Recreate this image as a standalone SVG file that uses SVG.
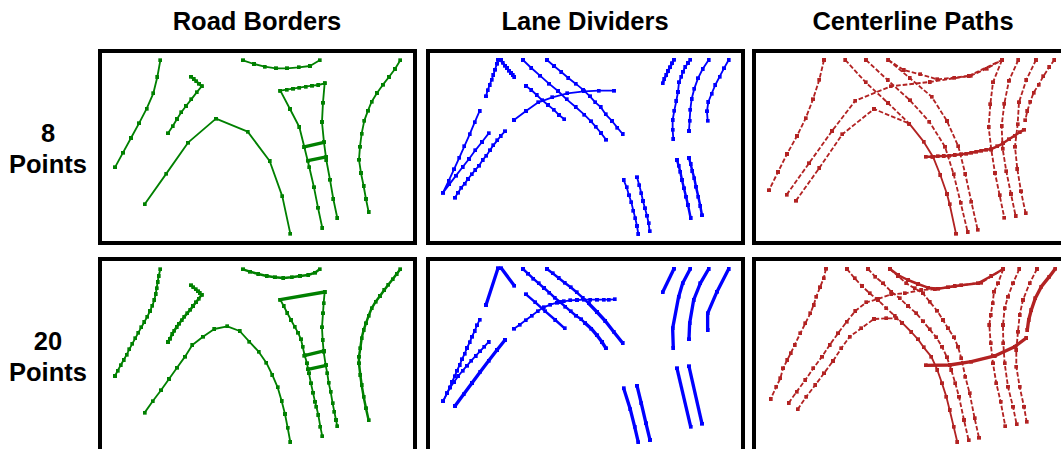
<svg xmlns="http://www.w3.org/2000/svg" width="1061" height="449" viewBox="0 0 1061 449">
<style>
text{font-family:"Liberation Sans",Arial,sans-serif;font-weight:700;font-size:25.5px;fill:#000;text-anchor:middle}
.frame{fill:#fff;stroke:#000;stroke-width:4}
polyline{fill:none;stroke-linejoin:round;stroke-width:5.5}
.g polyline{stroke:#008000;marker-start:url(#mg);marker-mid:url(#mg);marker-end:url(#mg)}
.b polyline{stroke:#0000ff;marker-start:url(#mb);marker-mid:url(#mb);marker-end:url(#mb)}
.r polyline{stroke:#b22222;stroke-dasharray:14 6;marker-start:url(#mr);marker-mid:url(#mr);marker-end:url(#mr)}
polyline.t{stroke-width:10;stroke-dasharray:none}
polyline.m{stroke-width:7.5;stroke-dasharray:none}
polyline.s{stroke-dasharray:none}
</style>
<defs>
<marker id="mg" markerUnits="userSpaceOnUse" markerWidth="12" markerHeight="12" refX="6" refY="6"><rect width="12" height="12" fill="#008000"/></marker>
<marker id="mb" markerUnits="userSpaceOnUse" markerWidth="12" markerHeight="12" refX="6" refY="6"><rect width="12" height="12" fill="#0000ff"/></marker>
<marker id="mr" markerUnits="userSpaceOnUse" markerWidth="12" markerHeight="12" refX="6" refY="6"><rect width="12" height="12" fill="#b22222"/></marker>
</defs>
<g id="titles">
<text x="257" y="30">Road Borders</text>
<text x="585" y="30">Lane Dividers</text>
<text x="913" y="30">Centerline Paths</text>
</g>
<g id="row-labels">
<text x="48" y="142">8</text>
<text x="48" y="173">Points</text>
<text x="48" y="350">20</text>
<text x="48" y="381">Points</text>
</g>
<g id="frames">
<rect class="frame" x="100" y="51" width="315" height="192"/>
<rect class="frame" x="428" y="51" width="315" height="192"/>
<rect class="frame" x="754" y="51" width="315" height="192"/>
<rect class="frame" x="100" y="259" width="315" height="192"/>
<rect class="frame" x="428" y="259" width="315" height="192"/>
<rect class="frame" x="754" y="259" width="315" height="192"/>
</g>
<g id="borders-8" class="g" transform="translate(95,45) scale(.3333)">
<polyline points="196,46 187,96 175,145 155,191 132,235 108,279 84,323 60,367"/>
<polyline class="m" points="288,95 296,102 304,109 312,116 320,124"/>
<polyline points="320,124 305,142 289,163 273,183 259,202 246,222 233,244 219,265"/>
<polyline points="149,478 214,386 279,293 363,221 458,260 524,348 562,454 586,566"/>
<polyline points="556,137 575,134 594,131 613,128 632,125 651,122 670,120 689,115"/>
<polyline points="556,137 585,192 613,246 628,306 643,367 657,427 669,488 682,549"/>
<polyline points="689,115 684,173 681,231 687,292 694,345 705,404 715,462 727,519"/>
<polyline class="t" points="628,306 687,292"/>
<polyline class="t" points="639,347 694,336"/>
<polyline points="444,46 477,57 509,65 543,70 576,70 611,67 645,63 674,46"/>
<polyline points="916,46 900,72 882,96 864,119 846,144 830,170 819,197 808,227 800,266 795,305 792,344 798,384 806,423 813,462 821,501"/>
</g>
<g id="dividers-8" class="b" transform="translate(422,45) scale(.3333)">
<polyline points="192,154 197,136 203,120 209,104 214,90 219,74 225,56 228,44 238,44"/>
<polyline class="m" points="234,44 242,53 249,62 255,69 261,77 267,84 272,90 277,96"/>
<polyline points="303,45 328,69 354,92 381,116 408,138 434,163 461,186 487,209 507,229 521,245 537,264 552,284"/>
<polyline points="375,45 396,63 418,81 439,99 461,116 483,134 504,154 520,172 536,186 551,208 570,228 586,248 602,267"/>
<polyline points="312,123 328,135 344,150 361,166 378,180 395,194 411,210 427,223"/>
<polyline points="276,225 312,198 349,172 391,157 436,145 486,139 530,137 576,137"/>
<polyline points="173,198 158,232 143,268 127,304 112,338 96,373 80,408 63,443"/>
<polyline points="200,265 180,291 160,316 141,342 122,366 102,392 82,418 63,443"/>
<polyline points="249,259 236,273 226,286 214,301 204,316 193,332 182,345 171,362 160,375 149,388 138,402 128,416 118,428 108,443 99,458"/>
<polyline points="605,405 614,427 621,451 628,472 634,497 640,520 645,543 649,567"/>
<polyline points="645,397 652,421 658,445 663,468 669,490 675,512 680,535 683,559"/>
<polyline class="m" points="765,345 770,362 775,380 780,405 786,430 792,455 798,480 806,519"/>
<polyline class="m" points="801,339 806,357 811,378 817,400 822,425 829,455 835,483 840,511"/>
<polyline class="m" points="756,44 750,55 744,67 738,78 733,90 727,102 722,115"/>
<polyline points="805,44 798,54 790,66 783,80 778,95 771,112 768,141 763,168 757,197 752,225 752,254 754,282"/>
<polyline points="860,45 842,72 828,100 817,131 809,162 805,194 803,227 801,258"/>
<polyline points="920,45 906,70 893,95 880,120 869,146 859,171 855,199 857,227"/>
</g>
<g id="paths-8" class="r" transform="translate(748,45) scale(.3333)">
<polyline points="228,45 214,104 195,163 173,220 147,273 117,327 90,381 63,436"/>
<polyline points="292,45 353,112 420,174 484,236"/>
<polyline points="354,45 419,105 486,166 544,230 591,305 617,388 638,473 659,561"/>
<polyline points="421,45 485,99 551,155 597,228 631,304 652,387 670,470 689,554"/>
<polyline points="421,45 467,75 517,88 568,103 619,98 668,92 716,71 762,45"/>
<polyline points="762,45 735,112 727,178 722,246 730,314 741,384 755,451 769,518"/>
<polyline points="811,45 783,107 769,176 761,243 764,311 775,379 789,447 803,513"/>
<polyline points="864,45 835,105 813,172 809,238 801,305 808,372 819,439 833,505"/>
<polyline points="919,45 904,66 886,94 872,119 857,143 847,170 838,198 832,226"/>
<polyline class="m" points="533,335 553,335 569,334 587,333 604,332 620,330 640,328 655,326 670,323 685,320 700,317 715,314 730,312 748,304 765,295 783,283 800,272 815,262 828,254"/>
<polyline points="116,449 183,355 252,258 322,167 428,124 545,111 662,93 762,45"/>
<polyline points="144,467 214,369 283,268 378,192 484,236"/>
<polyline class="s" points="484,236 527,290 555,335 577,390 597,447 605,478 624,566"/>
</g>
<g id="borders-20" class="g" transform="translate(95,250) scale(.3333)">
<polyline points="196,58 191,78 188,96 185,115 182,132 178,150 172,167 165,183 157,200 148,216 139,232 130,248 121,265 112,281 103,298 95,314 86,330 77,346 68,362 60,378"/>
<polyline class="m" points="288,106 295,112 302,118 309,124 314,129 320,134"/>
<polyline class="m" points="320,134 311,146 303,157 294,168 286,179 277,190 268,200 260,211 252,221 245,231 238,242 232,252 225,266 219,276"/>
<polyline points="149,488 173,454 198,421 222,387 246,353 270,320 292,285 324,260 358,237 397,229 434,243 463,275 491,305 514,338 532,375 548,412 560,453 570,492 578,533 586,576"/>
<polyline class="t" points="556,149 689,126"/>
<polyline points="556,149 566,168 577,189 588,210 599,230 609,248 618,268 623,290 629,316 636,340 642,370 648,400 654,428 660,455 664,470 670,495 676,530 682,559"/>
<polyline points="689,126 686,160 684,190 681,232 683,270 686,305 692,345 697,370 701,398 707,425 713,460 718,485 723,510 727,529"/>
<polyline class="t" points="628,317 687,303"/>
<polyline class="t" points="639,358 694,346"/>
<polyline class="m" points="444,58 465,65 490,72 515,78 540,82 565,84 590,82 615,78 640,75 660,68 674,58"/>
<polyline class="m" points="916,58 905,72 893,88 880,104 868,120 855,138 842,155 830,175 821,197 813,220 806,240 800,265 796,295 792,320 792,340 796,375 800,405 806,440 813,475 821,511"/>
</g>
<g id="dividers-20" class="b" transform="translate(422,250) scale(.3333)">
<polyline class="t" points="192,165 228,55 238,55 277,107"/>
<polyline class="m" points="303,57 318,71 334,86 350,100 366,114 382,128 398,143 414,156 430,170 446,184 462,197 478,208 490,220"/>
<polyline class="t" points="490,220 508,236 525,256 540,276 552,295"/>
<polyline class="m" points="375,57 392,70 410,84 428,98 446,112 464,127 482,143 500,160"/>
<polyline class="t" points="500,160 525,186 550,213 575,245 602,279"/>
<polyline class="m" points="312,133 340,157 370,184 400,210 428,235"/>
<polyline points="276,236 293,224 311,211 329,197 347,184 365,172 385,164 405,158 425,154 445,151 465,150 485,149 505,149 525,149 545,149 560,149 578,148"/>
<polyline points="173,209 165,226 158,243 150,260 143,277 135,294 128,311 120,328 113,345 105,362 98,379 90,396 83,413 75,430 63,454"/>
<polyline points="200,276 187,290 174,304 161,318 148,332 135,347 122,362 109,378 96,396 85,412 75,430 63,454"/>
<polyline class="t" points="249,270 225,300 200,332 175,365 150,399 125,433 99,468"/>
<polyline class="t" points="605,415 625,478 638,530 649,577"/>
<polyline class="t" points="645,407 658,460 672,520 684,570"/>
<polyline class="t" points="765,355 806,530"/>
<polyline class="t" points="801,349 840,521"/>
<polyline class="t" points="756,56 722,127"/>
<polyline class="t" points="805,56 782,100 770,140 752,235 754,294"/>
<polyline class="t" points="860,57 835,100 815,150 803,220 801,268"/>
<polyline class="t" points="920,57 885,125 857,190 857,240"/>
</g>
<g id="paths-20" class="r" transform="translate(748,250) scale(.3333)">
<polyline points="234,56 227,85 216,112 205,140 197,165 187,190 172,220 157,250 140,285 128,310 118,330 105,355 97,385 85,410 68,447"/>
<polyline points="297,57 320,85 342,108 365,130 390,150 415,175 440,197 462,218"/>
<polyline class="s" points="462,218 490,246 510,268 527,292 550,320 568,360 582,400 595,440 605,480 617,530 628,576"/>
<polyline points="360,57 382,80 405,100 430,125 455,145 480,168 505,190 525,214 545,238 565,262 582,290 597,322 610,360 622,400 633,440 648,510 662,571"/>
<polyline points="426,57 450,78 475,100 500,115 525,130 545,155 567,182 585,210 600,235 618,262 630,290 640,325 652,380 665,430 680,505 693,563"/>
<polyline class="m" points="426,57 450,75 480,90 510,102 540,113 570,116 600,112 640,106 690,100 730,78 766,57"/>
<polyline points="766,57 750,100 738,125 734,160 728,195 724,225 728,280 735,340 745,400 758,455 772,529"/>
<polyline points="814,57 795,100 780,140 770,175 765,225 766,280 770,340 780,410 795,470 806,523"/>
<polyline points="867,57 845,100 825,150 815,195 810,245 805,300 805,350 815,410 828,470 836,515"/>
<polyline class="t" points="922,56 904,80 880,110 862,145 850,180 842,210 838,240"/>
<polyline class="t" points="533,346 605,345 670,335 740,318 800,290 835,264"/>
<polyline points="122,459 146,425 172,390 196,355 222,320 245,285 270,250 296,215 322,183 355,157 390,147 430,133 470,130 520,120 560,118 620,108 700,98 766,57"/>
<polyline points="149,478 175,440 202,405 228,370 255,333 280,295 305,260 340,235 378,207 415,205 445,205 462,218"/>
</g>
</svg>
